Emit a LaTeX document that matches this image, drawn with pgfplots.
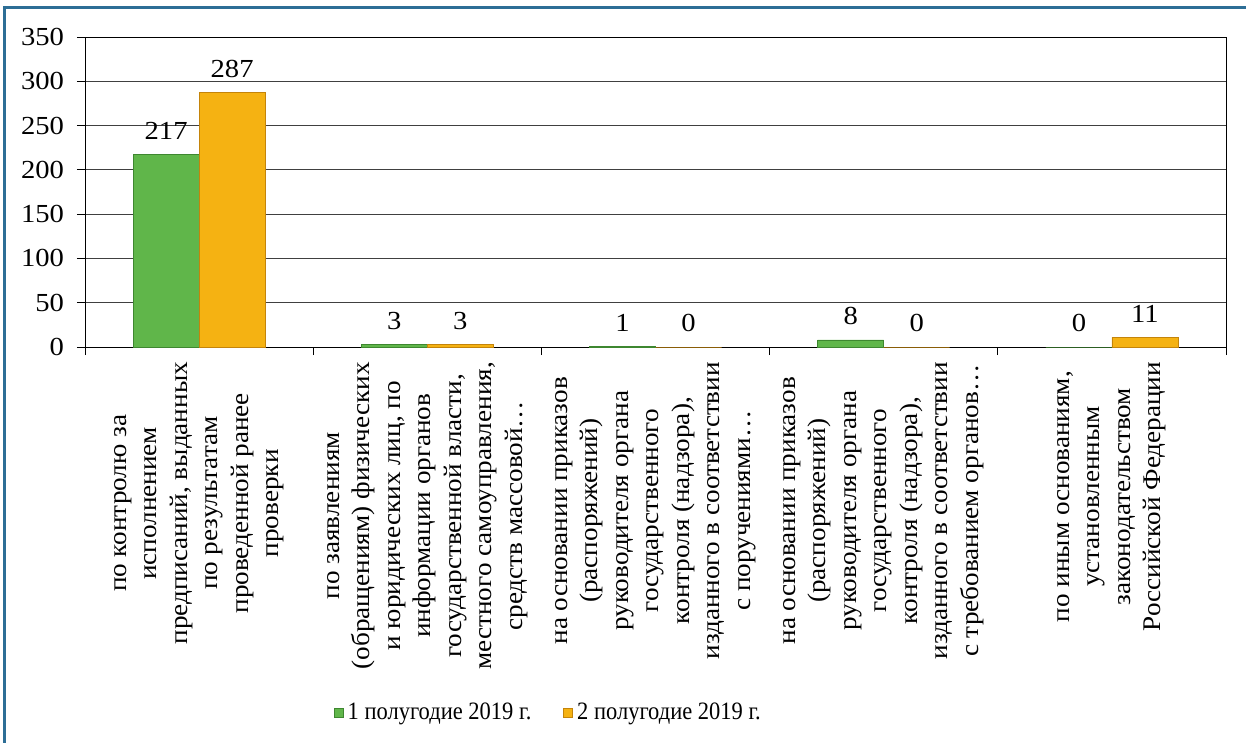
\documentclass[border=0pt]{standalone}
\usepackage{fontspec}
\setmainfont{Liberation Serif}
\newfontfamily\catfam[FakeStretch=1.07]{Liberation Serif}
\newfontfamily\tickfam[FakeStretch=1.1]{Liberation Serif}
\newfontfamily\legfam[FakeStretch=0.9]{Liberation Serif}
\usepackage{pgfplots}
\pgfplotsset{compat=1.18}
\definecolor{gr}{RGB}{96,182,74}
\definecolor{grd}{RGB}{62,135,48}
\definecolor{orn}{RGB}{245,178,18}
\definecolor{ornd}{RGB}{196,132,10}
\definecolor{frame}{RGB}{45,110,150}
\newcommand{\lblfont}{\catfam\fontsize{12.7}{15.25}\selectfont}
\newcommand{\tckfont}{\tickfam\fontsize{13}{15}\selectfont}
\newcommand{\legfont}{\legfam\fontsize{12.5}{15}\selectfont}
\begin{document}
\begin{tikzpicture}
\useasboundingbox (-42.5pt,-198pt) rectangle (580.5pt,173.5pt);
\draw[color=frame, line width=1.5pt] (-40pt,-198pt) -- (-40pt,169.5pt) -- (580.5pt,169.5pt);
\begin{axis}[
  scale only axis, width=570.5pt, height=155pt,
  ybar=0pt, bar width=33pt,
  xmin=-0.5, xmax=4.5, ymin=0, ymax=350,
  ytick={0,50,...,350},
  xtick={0,1,2,3,4},
  xticklabels={
    {по контролю за\\исполнением\\предписаний, выданных\\по результатам\\проведенной ранее\\проверки},
    {по заявлениям\\(обращениям) физических\\и юридических лиц, по\\информации органов\\государственной власти,\\местного самоуправления,\\средств массовой…},
    {на основании приказов\\(распоряжений)\\руководителя органа\\государственного\\контроля (надзора),\\изданного в соответствии\\с поручениями…},
    {на основании приказов\\(распоряжений)\\руководителя органа\\государственного\\контроля (надзора),\\изданного в соответствии\\с требованием органов…},
    {по иным основаниям,\\установленным\\законодательством\\Российской Федерации}},
  minor xtick={-0.5,0.5,1.5,2.5,3.5,4.5},
  major x tick style={draw=none},
  minor x tick style={black, thin},
  ytick style={black, thin},
  tick pos=left,
  tick align=outside, major tick length=4pt, minor tick length=4pt,
  ymajorgrids, major y grid style={black!75, thin},
  axis line style={black, thin},
  /pgf/number format/assume math mode=true,
  xticklabel style={rotate=90, anchor=east, align=center, font=\lblfont},
  yticklabel style={font=\tckfont, xshift=-3pt},
  nodes near coords,
  every node near coord/.append style={font=\tckfont, yshift=4pt, black},
  legend style={at={(0.407,-1.181)}, anchor=center, legend columns=2, draw=none, fill=none, font=\legfont,
    /tikz/every even column/.append style={column sep=14pt}},
  legend image code/.code={\fill[#1] (0pt,-2.25pt) rectangle (4.5pt,2.25pt);},
]
\addplot[fill=gr, draw=grd] coordinates {(0,217) (1,3) (2,1) (3,8) (4,0)};
\addplot[fill=orn, draw=ornd] coordinates {(0,287) (1,3) (2,0) (3,0) (4,11)};
\legend{1 полугодие 2019 г., 2 полугодие 2019 г.}
\end{axis}
\end{tikzpicture}
\end{document}
